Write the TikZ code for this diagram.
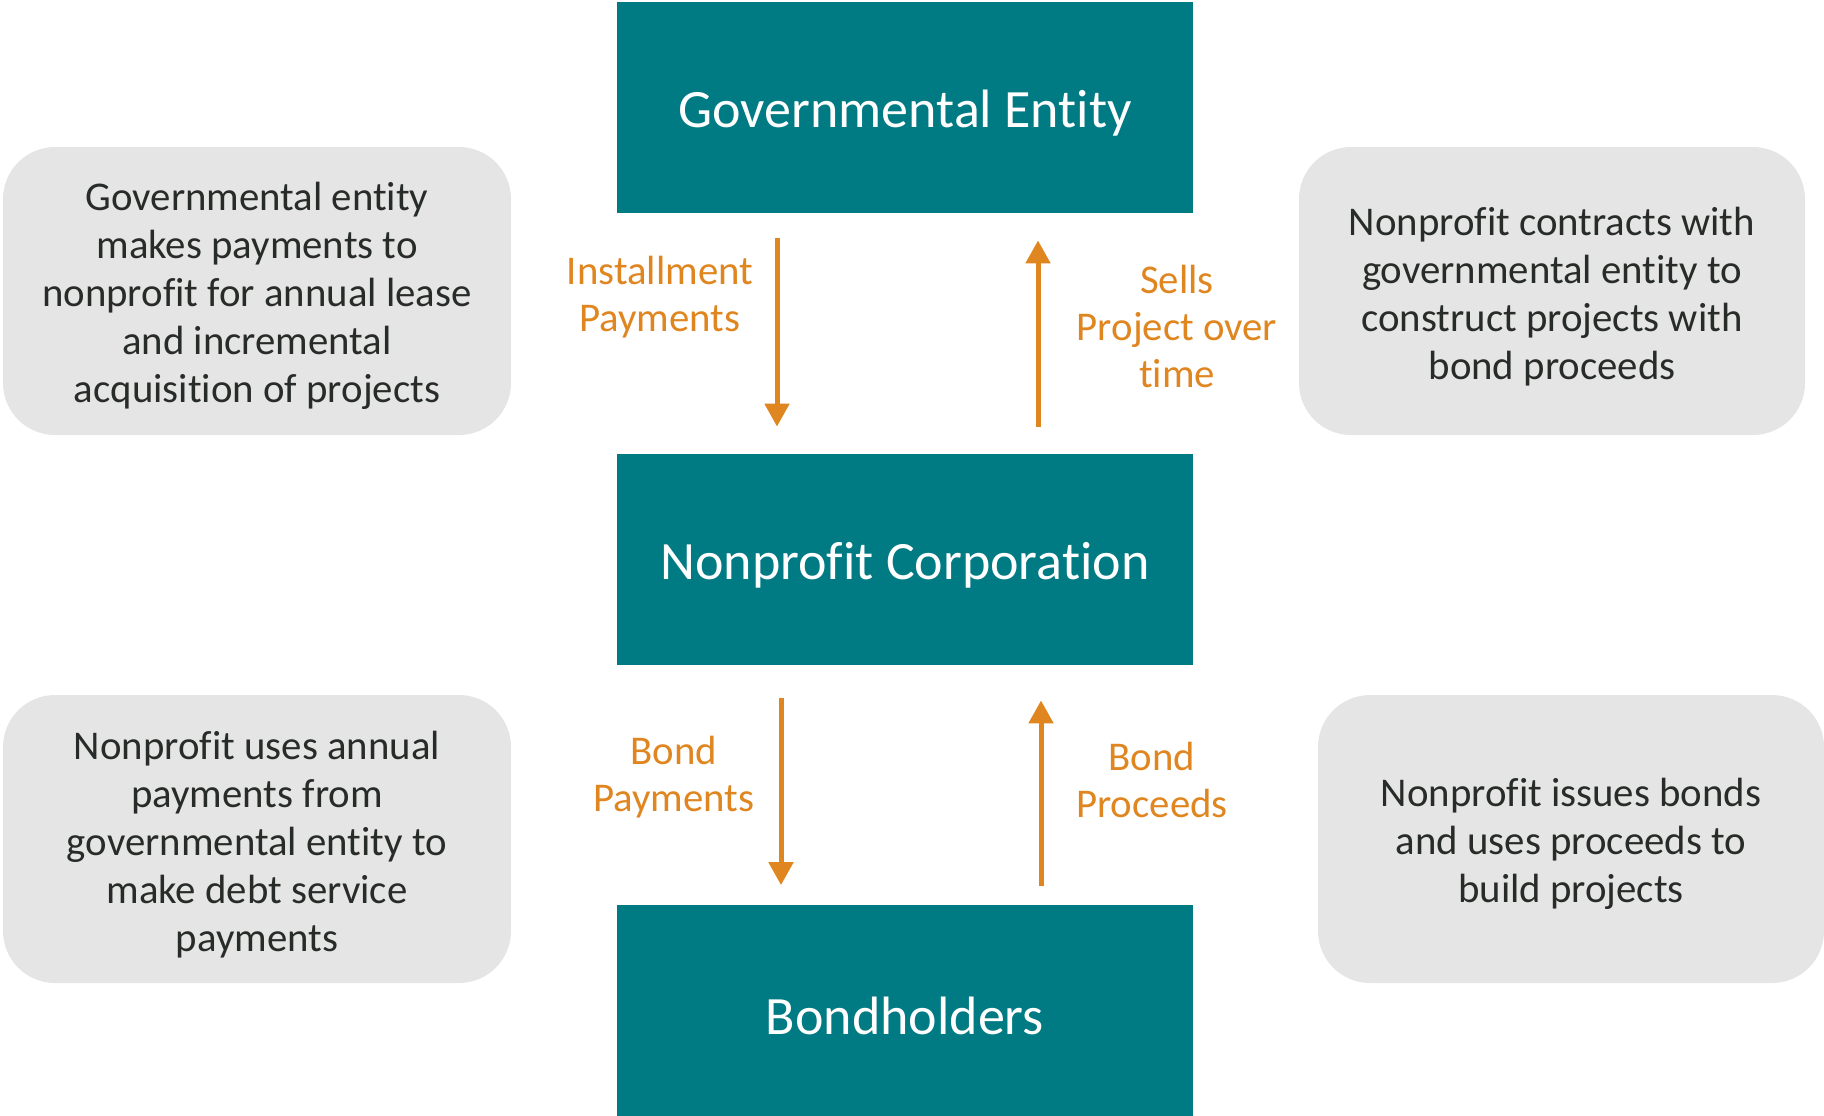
\documentclass[tikz,border=0pt]{standalone}
\usepackage{fontspec}
\setmainfont{Carlito}[Ligatures=CommonOff]
\usetikzlibrary{arrows.meta}
\definecolor{entityteal}{RGB}{0,122,131}
\definecolor{notegray}{RGB}{229,229,229}
\definecolor{notetext}{RGB}{40,44,40}
\definecolor{floworange}{RGB}{224,134,32}
\begin{document}
\begin{tikzpicture}[x=0.5pt,y=-0.5pt,
  entity/.style={fill=entityteal, minimum width=288pt, minimum height=105.5pt, inner sep=0pt},
  entitytext/.style={text=white, yshift=-2.8pt, inner sep=0pt, font=\fontsize{27}{32}\selectfont},
  note/.style={fill=notegray, rounded corners=26pt, minimum height=144pt, inner sep=0pt},
  notetext/.style={text=notetext, align=center, yshift=-2.6pt, inner sep=0pt,
    font=\fontsize{20.4}{24}\selectfont},
  flow/.style={draw=floworange, line width=2.5pt, -{Triangle[width=12pt,length=11.5pt]}},
  flowlabel/.style={text=floworange, align=center, inner sep=0pt,
    font=\fontsize{20.4}{23.5}\selectfont}]
\useasboundingbox (0,0) rectangle (1824,1115);

% the three parties
\node[entity, label={[entitytext]center:Governmental Entity}] (gov) at (905,107.5) {};
\node[entity, label={[entitytext]center:Nonprofit Corporation}] (np) at (905,559.5) {};
\node[entity, label={[entitytext]center:Bondholders}] (bh) at (905,1010) {};

% explanatory notes
\node[note, minimum width=254pt, label={[notetext]center:{Governmental entity\\makes payments to\\nonprofit for annual lease\\and incremental\\acquisition of projects}}] (noteTL) at (257,291) {};
\node[note, minimum width=253pt, label={[notetext]center:{Nonprofit contracts with\\governmental entity to\\construct projects with\\bond proceeds}}] (noteTR) at (1552,291) {};
\node[note, minimum width=254pt, label={[notetext]center:{Nonprofit uses annual\\payments from\\governmental entity to\\make debt service\\payments}}] (noteBL) at (257,839) {};
\node[note, minimum width=253pt, label={[notetext]center:{Nonprofit issues bonds\\and uses proceeds to\\build projects}}] (noteBR) at (1571,839) {};

% columns of the flow arrows
\coordinate (colA) at (777,0);
\coordinate (colB) at (1038,0);
\coordinate (colC) at (781,0);
\coordinate (colD) at (1041,0);

% flows between the parties
\draw[flow, shorten <=12.25pt, shorten >=13.5pt] (gov.south -| colA) -- (np.north -| colA);
\draw[flow, shorten <=13.5pt, shorten >=13.5pt] (np.north -| colB) -- (gov.south -| colB);
\draw[flow, shorten <=16.5pt, shorten >=9.5pt] (np.south -| colC) -- (bh.north -| colC);
\draw[flow, shorten <=9pt, shorten >=17.5pt] (bh.north -| colD) -- (np.south -| colD);

% flow labels
\node[flowlabel] (lblInst) at (660,297) {Installment\\Payments};
\node[flowlabel] (lblSell) at (1177,326) {Sells\\Project over\\time};
\node[flowlabel] (lblPay)  at (674,777) {Bond\\Payments};
\node[flowlabel] (lblProc) at (1152,780) {Bond\\Proceeds};
\end{tikzpicture}
\end{document}
